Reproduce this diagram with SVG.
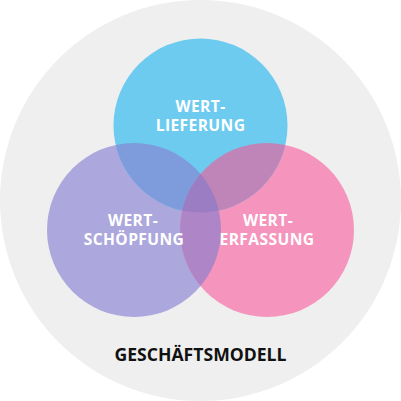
<svg xmlns="http://www.w3.org/2000/svg" width="401" height="401" viewBox="0 0 401 401">
<style>
.lbl{font-family:"Open Sans","Liberation Sans",sans-serif;font-weight:700;font-size:15.6px;fill:#fff;text-anchor:middle;letter-spacing:0.4px}
.ttl{font-family:"Open Sans","Liberation Sans",sans-serif;font-weight:700;font-size:17.6px;fill:#111;text-anchor:middle}
</style>
<defs>
<clipPath id="cB"><circle cx="200.5" cy="125.5" r="87"/></clipPath>
<clipPath id="cP"><circle cx="134" cy="230" r="87"/></clipPath>
<clipPath id="cK"><circle cx="267" cy="230" r="87"/></clipPath>
</defs>
<g id="background"><circle cx="200.5" cy="200.5" r="200.5" fill="#efefef"/></g>
<g id="schoepfung"><circle cx="134" cy="230" r="87" fill="#aca7dc"/></g>
<g id="erfassung"><circle cx="267" cy="230" r="87" fill="#f594bc"/></g>
<g id="lieferung"><circle cx="200.5" cy="125.5" r="87" fill="#6dcbf0"/></g>
<g id="overlaps">
<circle cx="134" cy="230" r="87" fill="#7e9bdb" clip-path="url(#cB)"/>
<circle cx="267" cy="230" r="87" fill="#c085b8" clip-path="url(#cB)"/>
<circle cx="267" cy="230" r="87" fill="#ae85c6" clip-path="url(#cP)"/>
<g clip-path="url(#cB)"><circle cx="267" cy="230" r="87" fill="#9b7dc4" clip-path="url(#cP)"/></g>
</g>
<g id="labels">
<text class="lbl" x="200.5" y="112">WERT-</text>
<text class="lbl" x="200.5" y="131">LIEFERUNG</text>
<text class="lbl" x="133" y="226">WERT-</text>
<text class="lbl" x="134" y="245">SCHÖPFUNG</text>
<text class="lbl" x="268" y="226">WERT-</text>
<text class="lbl" x="267" y="245">ERFASSUNG</text>
<text class="ttl" x="200.5" y="361">GESCHÄFTSMODELL</text>
</g>
</svg>
